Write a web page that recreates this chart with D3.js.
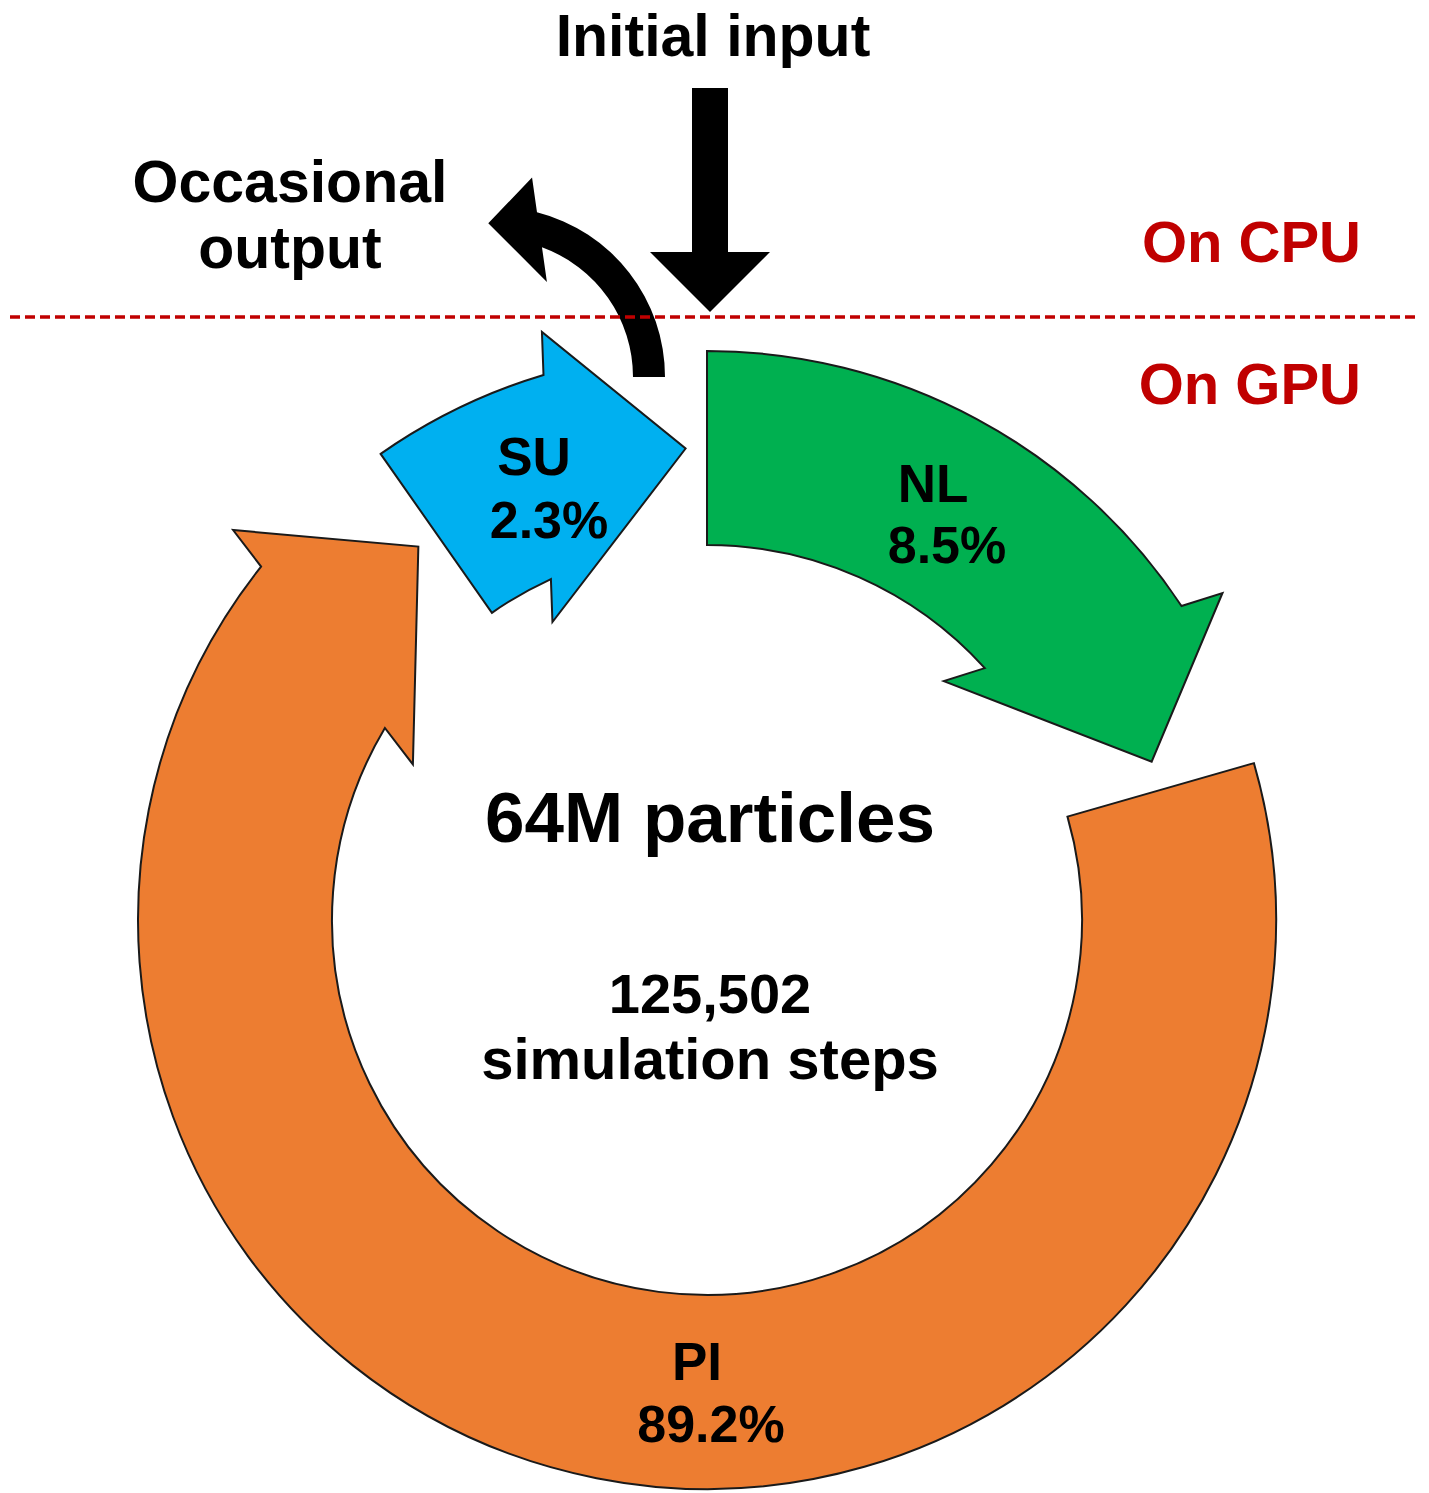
<!DOCTYPE html>
<html>
<head>
<meta charset="utf-8">
<script src="https://cdn.jsdelivr.net/npm/d3@7"></script>
<style>
  html, body { margin: 0; padding: 0; background: #fff; }
  svg { display: block; }
  text { font-family: 'Liberation Sans', Arial, sans-serif; font-weight: bold; }
</style>
</head>
<body>
<script>
// data
const stages = ['SU', 'NL', 'PI']
const shares = [2.3, 8.5, 89.2]
const stageColors = ['#00b0f0', '#00b050', '#ed7d31']
const particlesLabel = '64M particles'
const stepCount = 125502
const stepsLabel = 'simulation steps'
const layerLabels = ['On CPU', 'On GPU']
const inputLabel = 'Initial input'
const outputLabel = ['Occasional', 'output']

// layout
const W = 1429, H = 1493
const ring = { cx: 707, cy: 920, ro: 569, ri: 375 }
// angles in degrees, clockwise from 12 o'clock
const arrowGeom = {
  SU: { tail: 325, outer: 343.3, inner: 335.4, tip: 357.4, ext: 43 },
  NL: { tail: 0, outer: 56.5, inner: 47.8, tip: 70.4, ext: 43 },
  PI: { tail: 74, outer: 308.4, inner: 300.8, tip: 322.3, ext: 46 }
}
const labelPos = {
  SU: [[534, 475], [549, 538]],
  NL: [[933, 502], [947, 563]],
  PI: [[697, 1380], [711, 1442]]
}
const outRing = { cx: 495, cy: 377, ro: 170, ri: 138 }
const outGeom = { tail: 90, outer: 14.3, inner: 19.9, tip: -2.5, ext: 35, ccw: true }
const inArrow = { x: 710, top: 88, headY: 252, tipY: 312, shaftW: 36, headW: 120 }
const splitY = 317

const rad = d => d * Math.PI / 180

function arrowPath(g, c) {
  const pt = (r, a) => [c.cx + r * Math.sin(rad(a)), c.cy - r * Math.cos(rad(a))]
  const rm = (c.ro + c.ri) / 2
  const on = pt(c.ro, g.outer), inn = pt(c.ri, g.inner)
  const dx = on[0] - inn[0], dy = on[1] - inn[1], len = Math.hypot(dx, dy)
  const ux = dx / len, uy = dy / len
  const p = d3.path()
  p.moveTo(...pt(c.ro, g.tail))
  p.arc(c.cx, c.cy, c.ro, rad(g.tail - 90), rad(g.outer - 90), !!g.ccw)
  p.lineTo(on[0] + ux * g.ext, on[1] + uy * g.ext)
  p.lineTo(...pt(rm, g.tip))
  p.lineTo(inn[0] - ux * g.ext, inn[1] - uy * g.ext)
  p.lineTo(...inn)
  p.arc(c.cx, c.cy, c.ri, rad(g.inner - 90), rad(g.tail - 90), !g.ccw)
  p.closePath()
  return p.toString()
}

const svg = d3.select('body').append('svg')
  .attr('width', W)
  .attr('height', H)

const color = d3.scaleOrdinal().domain(stages).range(stageColors)
const fmtPct = d => d3.format('.1f')(d) + '%'

// stage arrows
const stage = svg.append('g').classed('stages', true)
  .selectAll('g')
  .data(stages.map((s, i) => ({ name: s, share: shares[i] })))
  .join('g')

stage.append('path')
  .attr('d', d => arrowPath(arrowGeom[d.name], ring))
  .attr('fill', d => color(d.name))
  .attr('stroke', '#1a1a1a')
  .attr('stroke-width', 2)
  .attr('stroke-linejoin', 'miter')

stage.append('text')
  .attr('x', d => labelPos[d.name][0][0])
  .attr('y', d => labelPos[d.name][0][1])
  .attr('text-anchor', 'middle')
  .style('font-size', '53px')
  .text(d => d.name)

stage.append('text')
  .attr('x', d => labelPos[d.name][1][0])
  .attr('y', d => labelPos[d.name][1][1])
  .attr('text-anchor', 'middle')
  .style('font-size', '52px')
  .text(d => fmtPct(d.share))

// input / output arrows
svg.append('path')
  .attr('d', arrowPath(outGeom, outRing))
  .attr('fill', '#000')

const a = inArrow
svg.append('path')
  .attr('d', d3.line()([
    [a.x - a.shaftW / 2, a.top], [a.x + a.shaftW / 2, a.top],
    [a.x + a.shaftW / 2, a.headY], [a.x + a.headW / 2, a.headY],
    [a.x, a.tipY], [a.x - a.headW / 2, a.headY],
    [a.x - a.shaftW / 2, a.headY]
  ]) + 'Z')
  .attr('fill', '#000')

// CPU / GPU split
svg.append('line')
  .attr('x1', 10).attr('x2', 1420)
  .attr('y1', splitY).attr('y2', splitY)
  .attr('stroke', '#c00000')
  .attr('stroke-width', 3.5)
  .attr('stroke-dasharray', '10,5')

svg.append('g')
  .selectAll('text')
  .data(layerLabels)
  .join('text')
  .attr('x', 1361)
  .attr('y', (d, i) => [262, 404][i])
  .attr('text-anchor', 'end')
  .attr('fill', '#c00000')
  .style('font-size', '58px')
  .text(d => d)

// other text
svg.append('text')
  .attr('x', 713).attr('y', 56)
  .attr('text-anchor', 'middle')
  .style('font-size', '59px')
  .text(inputLabel)

svg.append('g')
  .selectAll('text')
  .data(outputLabel)
  .join('text')
  .attr('x', 290)
  .attr('y', (d, i) => 202 + i * 66)
  .attr('text-anchor', 'middle')
  .style('font-size', '59px')
  .text(d => d)

svg.append('text')
  .attr('x', 710).attr('y', 842)
  .attr('text-anchor', 'middle')
  .style('font-size', '71px')
  .text(particlesLabel)

svg.append('g')
  .selectAll('text')
  .data([d3.format(',')(stepCount), stepsLabel])
  .join('text')
  .attr('x', 710)
  .attr('y', (d, i) => 1013 + i * 66)
  .attr('text-anchor', 'middle')
  .style('font-size', (d, i) => i ? '58px' : '56px')
  .text(d => d)
</script>
</body>
</html>
